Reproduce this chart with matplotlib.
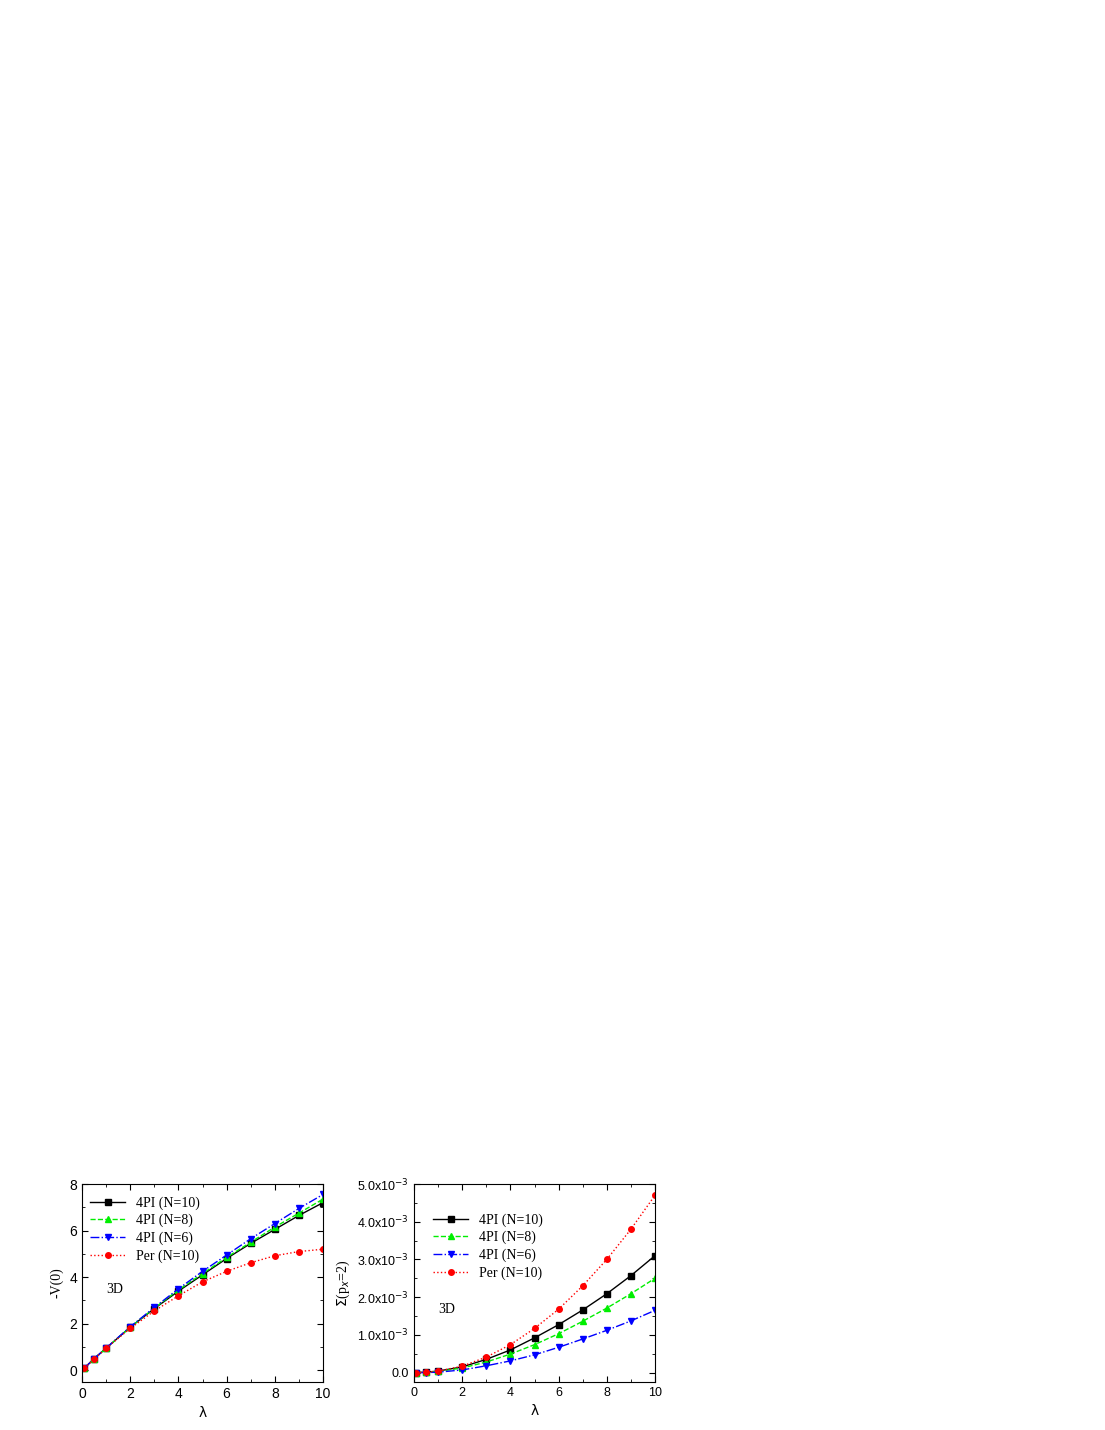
import matplotlib
matplotlib.use("Agg")
import matplotlib.pyplot as plt
from matplotlib.ticker import FuncFormatter, MultipleLocator

lam = [0.1, 0.5, 1, 2, 3, 4, 5, 6, 7, 8, 9, 10]
v_n10 = [0.1, 0.5, 0.95, 1.85, 2.65, 3.4, 4.1, 4.8, 5.45, 6.05, 6.65, 7.2]
v_n8 = [0.1, 0.5, 0.95, 1.85, 2.67, 3.45, 4.15, 4.85, 5.5, 6.15, 6.75, 7.35]
v_n6 = [0.1, 0.5, 0.96, 1.87, 2.7, 3.5, 4.25, 4.95, 5.65, 6.3, 6.95, 7.55]
v_per = [0.1, 0.48, 0.95, 1.8, 2.55, 3.2, 3.8, 4.25, 4.62, 4.92, 5.1, 5.2]
s_n10 = [0, 0.01, 0.04, 0.15, 0.35, 0.6, 0.92, 1.27, 1.66, 2.09, 2.57, 3.1]
s_n8 = [0, 0.01, 0.03, 0.12, 0.28, 0.49, 0.74, 1.03, 1.36, 1.71, 2.09, 2.5]
s_n6 = [0, 0, 0.01, 0.07, 0.18, 0.31, 0.47, 0.67, 0.89, 1.12, 1.37, 1.65]
s_per = [0, 0.01, 0.04, 0.17, 0.41, 0.74, 1.17, 1.68, 2.3, 3.0, 3.8, 4.7]
labels = ["4PI (N=10)", "4PI (N=8)", "4PI (N=6)", "Per (N=10)"]

plt.rcParams['font.family'] = ['Liberation Serif', 'DejaVu Serif']
fig = plt.figure(figsize=(11.05, 14.3), dpi=100)
W, H = 1105, 1430
ax1 = fig.add_axes([82/W, 1-1382/H, 241/W, 198/H])
ax2 = fig.add_axes([414/W, 1-1382/H, 241/W, 198/H])

styles = [dict(color='black', ls='-', marker='s'),
          dict(color='#00ee00', ls='--', marker='^'),
          dict(color='blue', ls='-.', marker='v'),
          dict(color='red', ls=':', marker='o')]

for ax, data in [(ax1, [v_n10, v_n8, v_n6, v_per]),
                 (ax2, [[v*1e-3 for v in s] for s in [s_n10, s_n8, s_n6, s_per]])]:
    for d, st, lb in zip(data, styles, labels):
        ax.plot(lam, d, lw=1, ms=4, label=lb, **st)
    ax.set_xlim(0, 10)
    ax.xaxis.set_major_locator(MultipleLocator(2))
    ax.xaxis.set_minor_locator(MultipleLocator(1))
    ax.tick_params(direction='in', which='both', top=True, right=True, labelsize=10)
    ax.tick_params(which='major', length=4)
    ax.tick_params(which='minor', length=2)
    ax.set_xlabel('λ', fontsize=10, family=['DejaVu Sans'])
    ax.text(0.1, 0.45 if ax is ax1 else 0.35, '3D', transform=ax.transAxes, fontsize=10)
    for lab in ax.get_xticklabels() + ax.get_yticklabels():
        lab.set_family('Liberation Sans')
    ax.legend(loc='upper left', frameon=False, fontsize=10, handlelength=2.5,
              borderaxespad=0.2 if ax is ax1 else 1.0, labelspacing=0.3,
              bbox_to_anchor=(0.0, 0.98) if ax is ax1 else (0.0, 0.95))

ax1.set_ylim(-0.5, 8)
ax1.yaxis.set_major_locator(MultipleLocator(2))
ax1.yaxis.set_minor_locator(MultipleLocator(1))
ax1.set_ylabel('-V(0)', fontsize=10)

ax2.set_ylim(-0.00025, 0.0050)
ax2.yaxis.set_major_locator(MultipleLocator(0.001))
ax2.yaxis.set_minor_locator(MultipleLocator(0.0005))
ax2.yaxis.set_major_formatter(FuncFormatter(
    lambda v, p: '0.0' if abs(v) < 1e-9 else r'%.1fx10$^{-3}$' % (v*1e3)))
ax2.set_ylabel(r'$\Sigma$(p$_x$=2)', fontsize=10)
for ax in (ax1, ax2):
    for lab in ax.get_xticklabels() + ax.get_yticklabels():
        lab.set_family('Liberation Sans')
        lab.set_fontsize(10 if ax is ax1 else 9)
fig.savefig('out.png', dpi=100)
